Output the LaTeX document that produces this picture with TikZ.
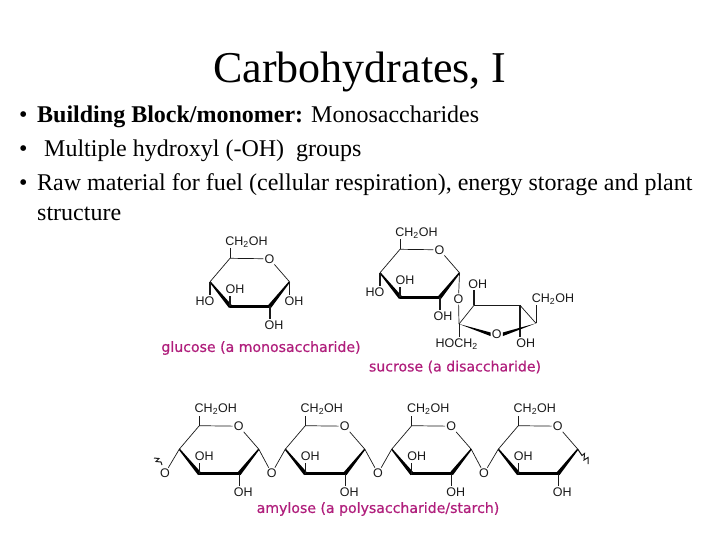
\documentclass[tikz,border=0pt]{standalone}
\usepackage{fontspec}
\usetikzlibrary{calc}
\setmainfont{Liberation Serif}
\newfontfamily\chemfont{Liberation Sans}
\newfontfamily\capfont[FakeBold=0.5]{DejaVu Sans}
\definecolor{capcol}{HTML}{B01E7C}
\definecolor{inkcol}{HTML}{1A1A1A}
\tikzset{
  x=1pt,y=-1pt,
  bondline/.style={draw=inkcol,line width=0.7pt},
  stemline/.style={draw=inkcol,line width=1.2pt},
  heavyline/.style={draw=black,line width=3.4pt,line cap=round},
  chem/.style={font=\chemfont\fontsize{12.5}{13}\selectfont,text=inkcol,inner sep=1pt},
  captext/.style={font=\capfont\fontsize{14.1}{16}\selectfont,text=capcol,inner sep=0pt,draw=none},
  bodytext/.style={font=\fontsize{24}{26}\selectfont,anchor=base west,inner sep=0pt,text=black},
  titletext/.style={font=\fontsize{44}{46}\selectfont,inner sep=0pt,text=black},
}
% pyranose ring: #1 name prefix, origin (#2,#3) is the upper-left ring carbon
\newcommand{\pyranosering}[3]{%
  \begin{scope}[shift={(#2,#3)}]
    \coordinate (#1t) at (0,0);
    \node[chem] (#1o) at (39.5,0.5) {O};
    \coordinate (#1r) at (59.5,23.5);
    \coordinate (#1br) at (40,48);
    \coordinate (#1bl) at (0,48);
    \coordinate (#1l) at (-20,23.5);
    \node[chem] (#1ch) at (16.5,-16.5) {CH\textsubscript{2}OH};
    \node[chem] (#1in) at (5,30.5) {OH};
    \coordinate (#1tu) at (0,-10);
    \coordinate (#1iu) at (0,37.5);
    \draw[bondline] (#1l) -- (#1t) -- (#1o) -- (#1r);
    \draw[bondline] (#1t) -- (#1tu);
    \fill[black] (-20.5,24) -- (-19.5,23) -- (1.8,46.8) -- (-1.2,49.4) -- cycle;
    \fill[black] (60,24) -- (59,23) -- (38.2,46.8) -- (41.2,49.4) -- cycle;
    \draw[heavyline] (#1bl) -- (#1br);
    \draw[stemline] (#1bl) -- (#1iu);
  \end{scope}}
\begin{document}
\begin{tikzpicture}
\useasboundingbox (0,0) rectangle (720,540);
\fill[white] (0,0) rectangle (720,540);
\node[titletext] (title) at (360,72) {Carbohydrates, I};
\node[bodytext] (b1) at (19,123) {•};
\node[bodytext] (t1) at (37,123) {\textbf{Building Block/monomer:} Monosaccharides};
\node[bodytext] (b2) at (19,157) {•};
\node[bodytext] (t2) at (44,157) {Multiple hydroxyl (-OH)\ \ groups};
\node[bodytext] (b3) at (19,191) {•};
\node[bodytext] (t3) at (37,191) {Raw material for fuel (cellular respiration), energy storage and plant};
\node[bodytext] (t4) at (37,221) {structure};

% glucose
\pyranosering{g}{230}{258.3}
\node[chem] (gho) at (205,300.7) {HO};
\node[chem] (goh) at (294,300.7) {OH};
\node[chem] (gbo) at (274,325) {OH};
\draw[stemline] (gl) -- (gho.north -| gl);
\draw[stemline] (gr) -- (goh.north -| gr);
\draw[stemline] (gbr) -- (gbo.north -| gbr);
\node[captext] (gcap) at (261,348) {glucose (a monosaccharide)};

% sucrose
\pyranosering{s}{400}{249.3}
\node[chem] (sho) at (375,291.7) {HO};
\node[chem] (sbo) at (443,316) {OH};
\node[chem] (slink) at (458.5,299) {O};
\draw[stemline] (sl) -- (sho.north -| sl);
\draw[stemline] (sbr) -- (sbo.north -| sbr);
\draw[bondline] (sr) -- (slink);
\coordinate (fa) at (459,324);
\coordinate (fb) at (474,305.3);
\coordinate (fc) at (520,305.3);
\coordinate (fd) at (536,323.3);
\coordinate (fe) at (536,305);
\node[chem] (fo) at (496.7,334.3) {O};
\node[chem] (foh) at (477.7,284.3) {OH};
\node[chem] (fch) at (553,299) {CH\textsubscript{2}OH};
\node[chem] (fohb) at (525.7,342.7) {OH};
\node[chem] (fhoch) at (456.7,344) {HOCH\textsubscript{2}};
\draw[bondline] (slink) -- (fa);
\draw[bondline] (fa) -- (fb);
\draw[stemline,line width=1.6pt] (fb) -- (fc);
\draw[bondline] (fc) -- (fd);
\draw[bondline] (fd) -- (fe);
\draw[stemline] (fb) -- (foh.south -| fb);
\draw[stemline] (fc) -- (fohb.north -| fc);
\draw[bondline] (fa) -- (fhoch.north -| fa);
\fill[black] (fa) -- ($(fo.west)+(0,-1.8)$) -- ($(fo.west)+(0,1.8)$) -- cycle;
\fill[black] (fd) -- ($(fo.east)+(0,-1.8)$) -- ($(fo.east)+(0,1.8)$) -- cycle;
\node[captext] (scap) at (455,367) {sucrose (a disaccharide)};

% amylose
\pyranosering{a}{199.3}{425.7}
\pyranosering{c}{305.3}{425.7}
\pyranosering{d}{411.7}{425.7}
\pyranosering{e}{518.3}{425.7}
\foreach \p/\lx/\ly in {a/243.3/492,c/349.3/492,d/455.7/492,e/562.3/492}{
  \node[chem] (\p boh) at (\lx,\ly) {OH};
  \draw[stemline] (\p br) -- (\p boh.north -| \p br);
}
\node[chem] (ox) at (165,473.3) {O};
\node[chem] (oab) at (271.7,473.3) {O};
\node[chem] (ocd) at (378,473.3) {O};
\node[chem] (ode) at (484,473.3) {O};
\draw[bondline] (ox) -- (al);
\draw[bondline] (ar) -- (oab) -- (cl);
\draw[bondline] (cr) -- (ocd) -- (dl);
\draw[bondline] (dr) -- (ode) -- (el);
\coordinate (qs) at (154,458);
\coordinate (qe) at (162,465);
\draw[bondline,line width=1pt] (qs) -- (159,458.5) -- (156,461.5) -- (161,462) -- (qe);
\coordinate (ze) at (588,464);
\draw[bondline,line width=1pt] (er) -- (582,455.5) -- (584.5,453.5) -- (584,460) -- (588,457.5) -- (ze);
\node[captext] (acap) at (378,509) {amylose (a polysaccharide/starch)};
\end{tikzpicture}
\end{document}
